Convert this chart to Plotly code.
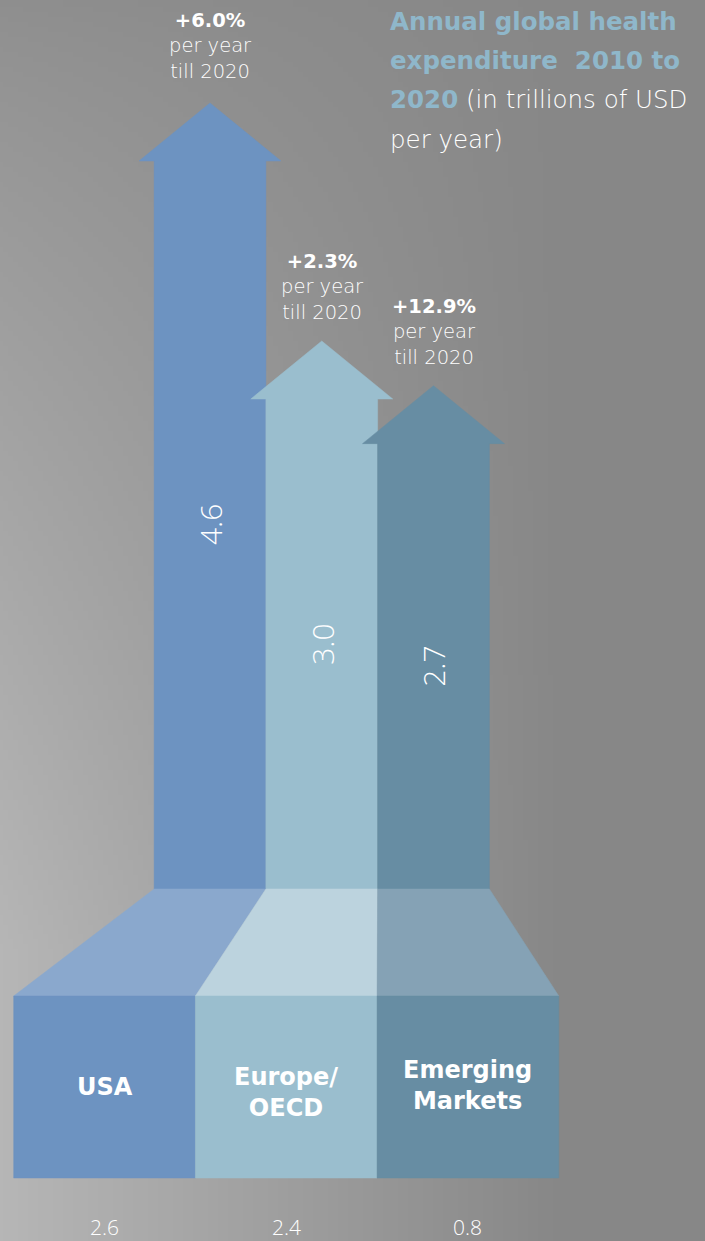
import base64
import struct
import zlib
import plotly.graph_objects as go

# ---------------- data ----------------
regions = ["USA", "Europe/OECD", "Emerging Markets"]
region_labels = ["USA", "Europe/<br>OECD", "Emerging<br>Markets"]
spend_2010 = [2.6, 2.4, 0.8]          # trillions USD per year (2010)
spend_2020 = [4.6, 3.0, 2.7]          # trillions USD per year (2020)
growth_labels = ["+6.0%", "+2.3%", "+12.9%"]

# ---------------- style ----------------
shaft_colors = ["#6d93c1", "#9abece", "#678da3"]
trap_colors = ["#8aa8cd", "#bcd3de", "#85a2b5"]
title_blue = "#8fb7ca"
W, H = 705, 1241
SANS = "DejaVu Sans"
NUM = "Open Sans"

# axis geometry (value scale)
PX_X = 111.75          # px per category unit
X0_PX = 210.0          # px of first arrow centre
PX_Y = 148.75          # px per trillion
Y0_PX = 787.25         # px row of value 0
x_range = [-X0_PX / PX_X, (W - X0_PX) / PX_X]
y_range = [(Y0_PX - H) / PX_Y, Y0_PX / PX_Y]

def py(px_row):
    return (Y0_PX - px_row) / PX_Y

def pxx(px_col):
    return (px_col - X0_PX) / PX_X

SHAFT_HALF = 0.5
HEAD_HALF = 71 / PX_X
HEAD_H = 58 / PX_Y
SHAFT_BOTTOM = py(889)
TRAP_BOTTOM = py(996)
BOX_BOTTOM = py(1178)
BOX_W = 181.7 / PX_X
BOX_LEFT0 = pxx(13.7)
BOX_LABEL_ROWS = [1087, 1092, 1085]
GROWTH_SHIFT = [18, 15, 15]

# ---------------- background gradient image ----------------
def gradient_png(w, h):
    rows = []
    for j in range(h):
        yy = (j + 0.5) * H / h
        a = 7 + 40 * (min(1.0, yy / 950.0) ** 0.8)
        row = bytearray([0])
        for i in range(w):
            xx = (i + 0.5) * W / w
            f = max(0.0, 1 - xx / 560.0)
            row.append(int(round(135 + a * f)))
        rows.append(bytes(row))
    raw = b"".join(rows)

    def chunk(tag, data):
        return (struct.pack(">I", len(data)) + tag + data
                + struct.pack(">I", zlib.crc32(tag + data) & 0xFFFFFFFF))

    png = (b"\x89PNG\r\n\x1a\n"
           + chunk(b"IHDR", struct.pack(">IIBBBBB", w, h, 8, 0, 0, 0, 0))
           + chunk(b"IDAT", zlib.compress(raw, 9))
           + chunk(b"IEND", b""))
    return "data:image/png;base64," + base64.b64encode(png).decode()

fig = go.Figure()

# ---------------- arrows ----------------
for i, v in enumerate(spend_2020):
    c = i
    head_base = v - HEAD_H
    xs = [c - SHAFT_HALF, c - SHAFT_HALF, c - HEAD_HALF, c, c + HEAD_HALF,
          c + SHAFT_HALF, c + SHAFT_HALF, c - SHAFT_HALF]
    ys = [SHAFT_BOTTOM, head_base, head_base, v, head_base,
          head_base, SHAFT_BOTTOM, SHAFT_BOTTOM]
    fig.add_trace(go.Scatter(
        x=xs, y=ys, mode="lines", fill="toself", fillcolor=shaft_colors[i],
        line=dict(color=shaft_colors[i], width=0.5), hoverinfo="skip",
        showlegend=False, name=regions[i]))

# ---------------- trapezoids & base boxes ----------------
for i in range(len(regions)):
    bl = BOX_LEFT0 + i * BOX_W
    br = bl + BOX_W
    xs = [i - SHAFT_HALF, i + SHAFT_HALF, br, bl, i - SHAFT_HALF]
    ys = [SHAFT_BOTTOM, SHAFT_BOTTOM, TRAP_BOTTOM, TRAP_BOTTOM, SHAFT_BOTTOM]
    fig.add_trace(go.Scatter(
        x=xs, y=ys, mode="lines", fill="toself", fillcolor=trap_colors[i],
        line=dict(color=trap_colors[i], width=0.5), hoverinfo="skip",
        showlegend=False))
    xs = [bl, br, br, bl, bl]
    ys = [TRAP_BOTTOM, TRAP_BOTTOM, BOX_BOTTOM, BOX_BOTTOM, TRAP_BOTTOM]
    fig.add_trace(go.Scatter(
        x=xs, y=ys, mode="lines", fill="toself", fillcolor=shaft_colors[i],
        line=dict(color=shaft_colors[i], width=0.5), hoverinfo="skip",
        showlegend=False))

annotations = []
# value labels inside shafts
for i, v in enumerate(spend_2020):
    mid = (v - HEAD_H + SHAFT_BOTTOM) / 2
    annotations.append(dict(
        x=i, y=mid, text=f"{v:.1f}", textangle=-90, showarrow=False,
        xanchor="center", yanchor="middle",
        font=dict(family=NUM, size=30, color="white", weight=300)))

# growth labels above arrows
for i, v in enumerate(spend_2020):
    annotations.append(dict(
        x=i, y=v, yshift=GROWTH_SHIFT[i], showarrow=False,
        xanchor="center", yanchor="bottom",
        text=(f"<span style='font-weight:bold;font-size:19.5px'>{growth_labels[i]}</span>"
              "<br>per year<br>till 2020"),
        font=dict(family=SANS, size=19.5, color="white", weight=200)))

# region labels in boxes
for i, lab in enumerate(region_labels):
    cx = BOX_LEFT0 + (i + 0.5) * BOX_W
    annotations.append(dict(
        x=cx, y=py(BOX_LABEL_ROWS[i]), text=f"<b>{lab}</b>",
        showarrow=False, xanchor="center", yanchor="middle",
        font=dict(family=SANS, size=24, color="white")))

# 2010 values under boxes
for i, v in enumerate(spend_2010):
    cx = BOX_LEFT0 + (i + 0.5) * BOX_W
    annotations.append(dict(
        x=cx, y=py(1227), text=f"{v:.1f}", showarrow=False,
        xanchor="center", yanchor="middle",
        font=dict(family=NUM, size=21, color="white", weight=300)))

# title block
title_lines = [
    "<b>Annual global health</b>",
    "<b>expenditure\u00a0 2010 to</b>",
    "<b>2020</b><span style='color:white;font-weight:200'> (in trillions of USD</span>",
    "<span style='color:white;font-weight:200'>per year)</span>",
]
for k, t in enumerate(title_lines):
    annotations.append(dict(
        xref="paper", yref="paper", x=388 / W, y=1 - (22 + 39 * k) / H,
        text=t, showarrow=False, xanchor="left", yanchor="middle", align="left",
        font=dict(family=SANS, size=24.5, color=title_blue)))

fig.update_layout(
    width=W, height=H,
    margin=dict(l=0, r=0, t=0, b=0),
    paper_bgcolor="#878787", plot_bgcolor="rgba(0,0,0,0)",
    xaxis=dict(range=x_range, visible=False, fixedrange=True),
    yaxis=dict(range=y_range, visible=False, fixedrange=True),
    annotations=annotations,
    images=[dict(source=gradient_png(141, 249), xref="paper", yref="paper",
                 x=0, y=1, sizex=1, sizey=1, sizing="stretch",
                 xanchor="left", yanchor="top", layer="below")],
    showlegend=False,
)

fig.write_html(
    "out.html",
    config={"displayModeBar": False},
    post_script="document.body.style.margin='0';document.body.style.overflow='hidden';",
)
